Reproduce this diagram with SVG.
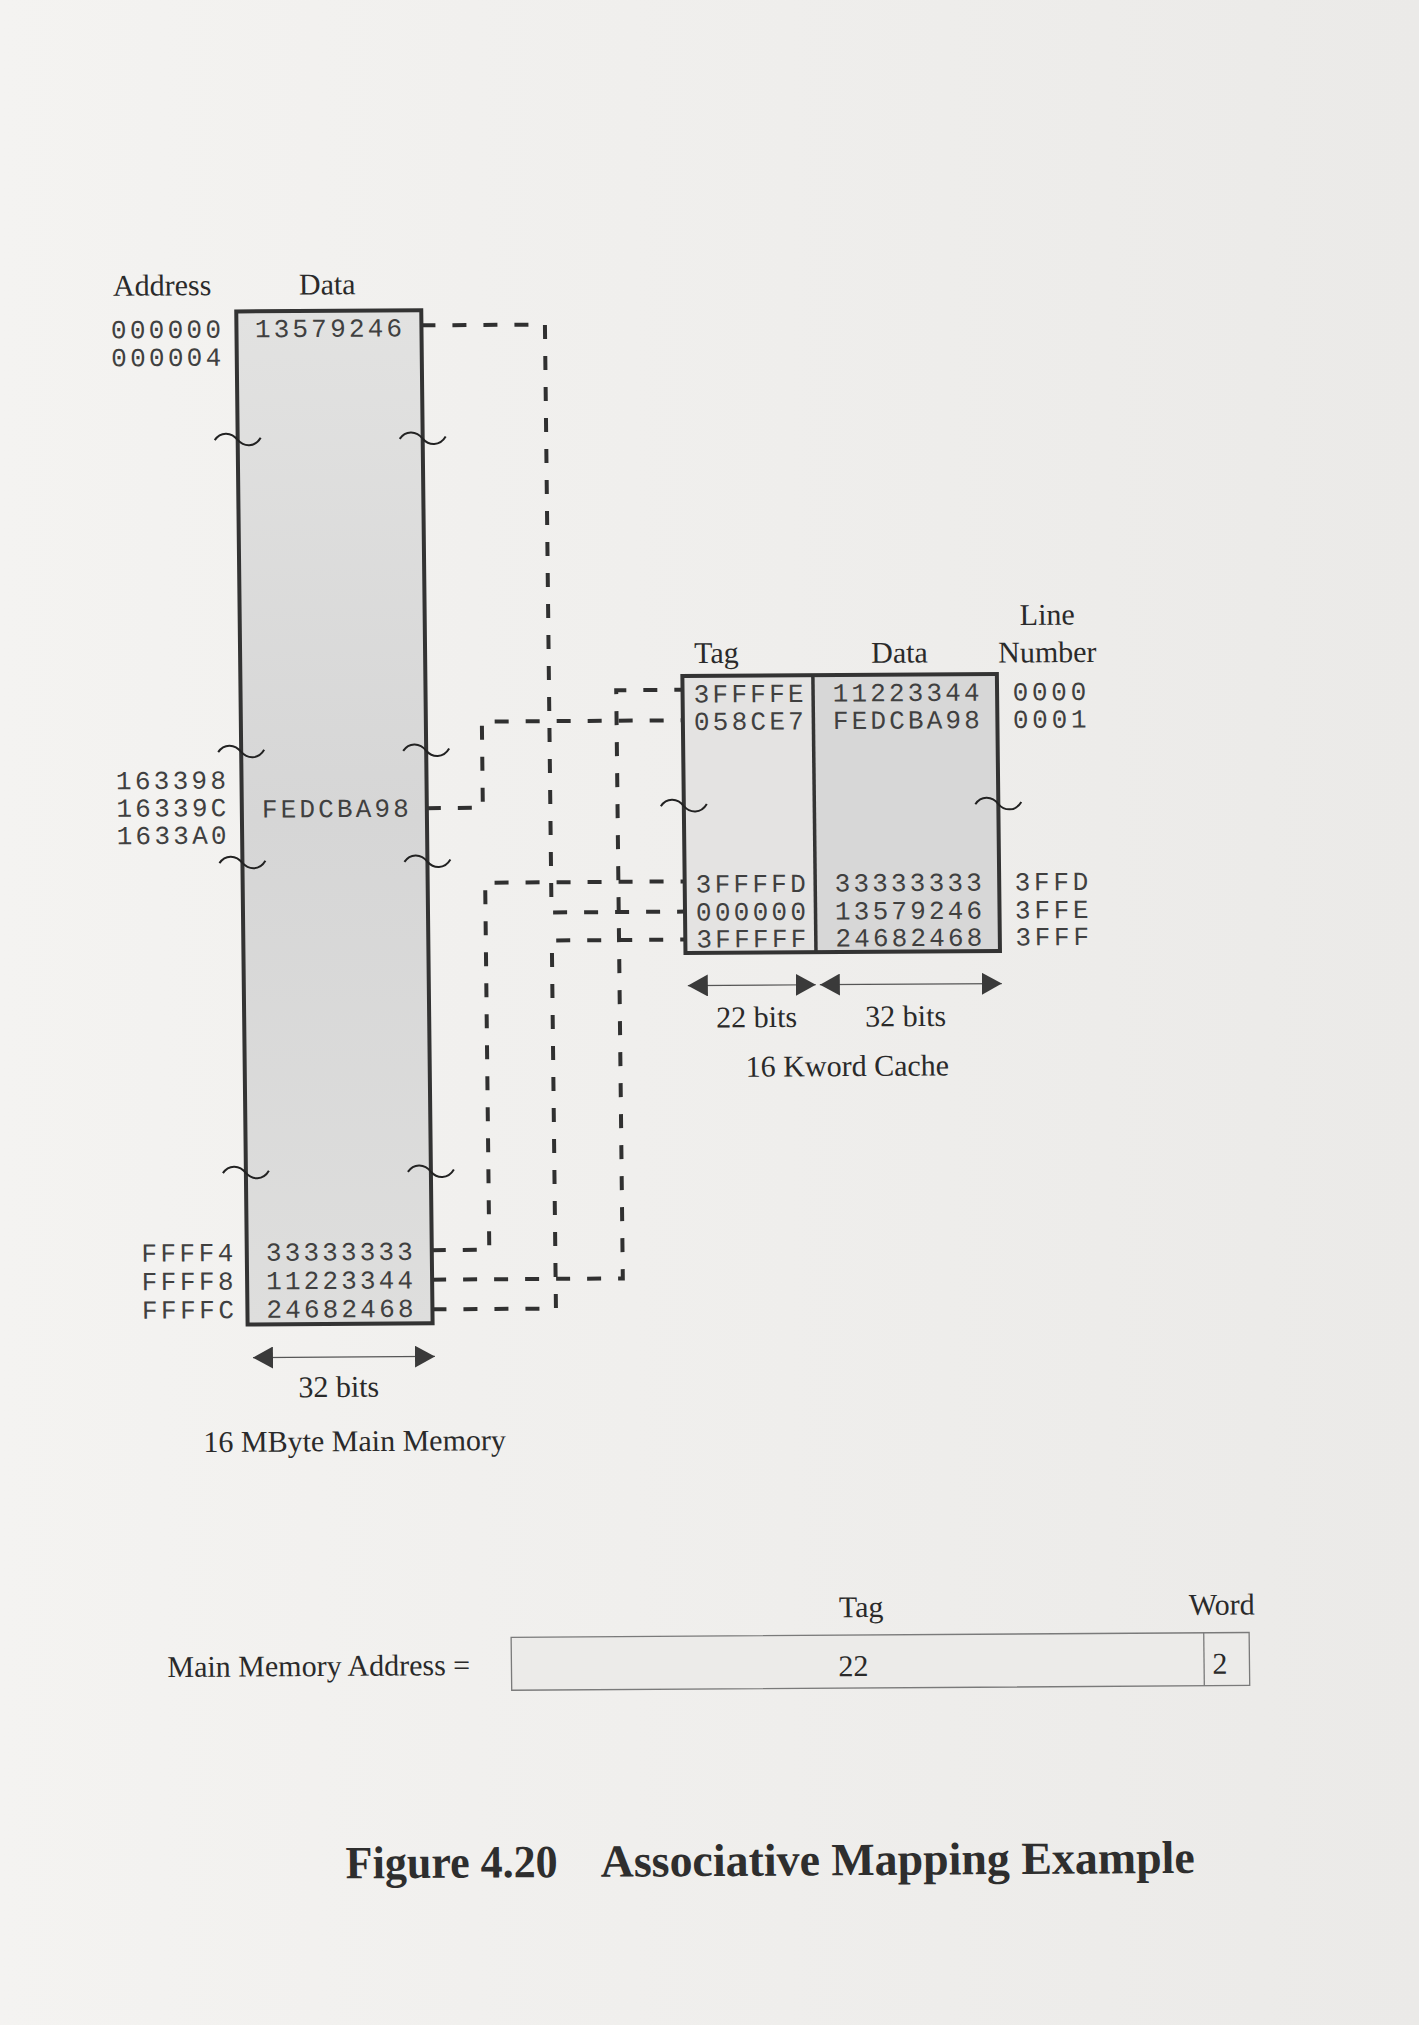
<svg xmlns="http://www.w3.org/2000/svg" width="1419" height="2025" viewBox="0 0 1419 2025">
<defs>
<style>
.mono{font-family:"Liberation Mono","DejaVu Sans Mono",monospace;font-size:26px;fill:#404040}
.serif{font-family:"Liberation Serif","Times New Roman",serif;font-size:30px;fill:#2a2a2a}
.title{font-family:"Liberation Serif","Times New Roman",serif;font-size:46px;font-weight:bold;fill:#2e2e2e}
.box{stroke:#333;stroke-width:4}
.conn{fill:none;stroke:#303030;stroke-width:4;stroke-dasharray:14 17}
.tilde{fill:none;stroke:#222;stroke-width:2}
.dim{stroke:#555;stroke-width:1.2}
</style>
<linearGradient id="bg" x1="0" y1="0" x2="1" y2="0">
<stop offset="0" stop-color="#f4f3f1"/><stop offset="1" stop-color="#ebeae8"/>
</linearGradient>
<linearGradient id="mmfill" x1="0" y1="0" x2="0" y2="1">
<stop offset="0" stop-color="#e2e2e1"/><stop offset="0.5" stop-color="#d6d6d6"/><stop offset="1" stop-color="#dededd"/>
</linearGradient>
<path id="tl" d="M-23,0 C-17,-9 -6,-8 0,0 C6,7 17,8 23,-2"/>
<marker id="ah" viewBox="0 0 20 22" refX="20" refY="11" markerWidth="20" markerHeight="22" markerUnits="userSpaceOnUse" orient="auto-start-reverse">
<path d="M0,0 L20,11 L0,22 z" fill="#3a3a3a"/>
</marker>
</defs>
<rect x="0" y="0" width="1419" height="2025" fill="url(#bg)"/>
<g transform="matrix(1,-0.0065,0.0112,1,-11.2,4.55)">
<g id="connectors">
<path class="conn" d="M429,323.6 H552.5 V911.5 H686"/>
<path class="conn" d="M429,806.4 H485 V720.2 H686"/>
<path class="conn" d="M429,1248.4 H486.5 V881.3 H686"/>
<path class="conn" d="M429,1277.9 H619.7 V689.7 H686"/>
<path class="conn" d="M429,1307.6 H552.5 V939.5 H686"/>
</g>
<g id="main-memory">
<rect x="244" y="308.5" width="185" height="1013" fill="url(#mmfill)" class="box"/>
<text class="serif" x="121" y="292">Address</text>
<text class="serif" x="307" y="292">Data</text>
<text class="mono" x="118.5" y="334.5" textLength="110">000000</text>
<text class="mono" x="118.5" y="362.5" textLength="110">000004</text>
<text class="mono" x="262.5" y="334.5" textLength="147">13579246</text>
<text class="mono" x="118.5" y="785.5" textLength="110">163398</text>
<text class="mono" x="118.5" y="813" textLength="110">16339C</text>
<text class="mono" x="118.5" y="840.5" textLength="110">1633A0</text>
<text class="mono" x="264" y="814.7" textLength="147">FEDCBA98</text>
<text class="mono" x="138.5" y="1258" textLength="92">FFFF4</text>
<text class="mono" x="138.5" y="1286.5" textLength="92">FFFF8</text>
<text class="mono" x="138.5" y="1315" textLength="92">FFFFC</text>
<text class="mono" x="263" y="1258" textLength="147">33333333</text>
<text class="mono" x="263" y="1286.5" textLength="147">11223344</text>
<text class="mono" x="263" y="1315" textLength="147">24682468</text>
<use href="#tl" class="tilde" x="244" y="437"/>
<use href="#tl" class="tilde" x="429" y="437"/>
<use href="#tl" class="tilde" x="244" y="749"/>
<use href="#tl" class="tilde" x="429" y="749"/>
<use href="#tl" class="tilde" x="244" y="860"/>
<use href="#tl" class="tilde" x="429" y="860"/>
<use href="#tl" class="tilde" x="244" y="1170"/>
<use href="#tl" class="tilde" x="429" y="1170"/>
<line class="dim" x1="249" y1="1354.7" x2="431" y2="1354.7" marker-start="url(#ah)" marker-end="url(#ah)"/>
<text class="serif" x="294" y="1394.5">32 bits</text>
<text class="serif" x="198.5" y="1448.8">16 MByte Main Memory</text>
</g>
<g id="cache">
<rect x="686" y="676" width="130.5" height="277" fill="#e4e3e2"/>
<rect x="816.5" y="676" width="184" height="277" fill="#d7d7d7"/>
<rect x="686" y="676" width="314.5" height="277" fill="none" class="box"/>
<line x1="816.5" y1="676" x2="816.5" y2="953" stroke="#333" stroke-width="3.5"/>
<text class="serif" x="698" y="663">Tag</text>
<text class="serif" x="875" y="664">Data</text>
<text class="serif" x="1024" y="627">Line</text>
<text class="serif" x="1002" y="664.5">Number</text>
<text class="mono" x="697" y="702.5" textLength="110">3FFFFE</text>
<text class="mono" x="836" y="702.5" textLength="147">11223344</text>
<text class="mono" x="1016" y="702.5" textLength="73.6">0000</text>
<text class="mono" x="697" y="730" textLength="110">058CE7</text>
<text class="mono" x="836" y="730" textLength="147">FEDCBA98</text>
<text class="mono" x="1016" y="730" textLength="73.6">0001</text>
<text class="mono" x="697" y="892.5" textLength="110">3FFFFD</text>
<text class="mono" x="836" y="892.5" textLength="147">33333333</text>
<text class="mono" x="1016" y="892.5" textLength="73.6">3FFD</text>
<text class="mono" x="697" y="920.5" textLength="110">000000</text>
<text class="mono" x="836" y="920.5" textLength="147">13579246</text>
<text class="mono" x="1016" y="920.5" textLength="73.6">3FFE</text>
<text class="mono" x="697" y="947.5" textLength="110">3FFFFF</text>
<text class="mono" x="836" y="947.5" textLength="147">24682468</text>
<text class="mono" x="1016" y="947.5" textLength="73.6">3FFF</text>
<use href="#tl" class="tilde" x="686" y="806"/>
<use href="#tl" class="tilde" x="1000.5" y="806"/>
<line class="dim" x1="688" y1="985.5" x2="816" y2="985.5" marker-start="url(#ah)" marker-end="url(#ah)"/>
<line class="dim" x1="820" y1="985.5" x2="1002" y2="985.5" marker-start="url(#ah)" marker-end="url(#ah)"/>
<text class="serif" x="716" y="1027.5">22 bits</text>
<text class="serif" x="865" y="1027.5">32 bits</text>
<text class="serif" x="745" y="1077">16 Kword Cache</text>
</g>
<g id="address-format">
<text class="serif" x="160" y="1673.5">Main Memory Address =</text>
<rect x="504" y="1636" width="738" height="53" fill="#ecebe9" stroke="#7a7a7a" stroke-width="1.3"/>
<line x1="1196.6" y1="1636" x2="1196.6" y2="1689" stroke="#7a7a7a" stroke-width="1.3"/>
<text class="serif" x="832" y="1618">Tag</text>
<text class="serif" x="1182" y="1618">Word</text>
<text class="serif" x="831" y="1677">22</text>
<text class="serif" x="1205" y="1677">2</text>
</g>
<g id="title">
<text class="title" x="336" y="1876" textLength="212" lengthAdjust="spacingAndGlyphs">Figure 4.20</text>
<text class="title" x="591" y="1876" textLength="594" lengthAdjust="spacingAndGlyphs">Associative Mapping Example</text>
</g>
</g>
</svg>
